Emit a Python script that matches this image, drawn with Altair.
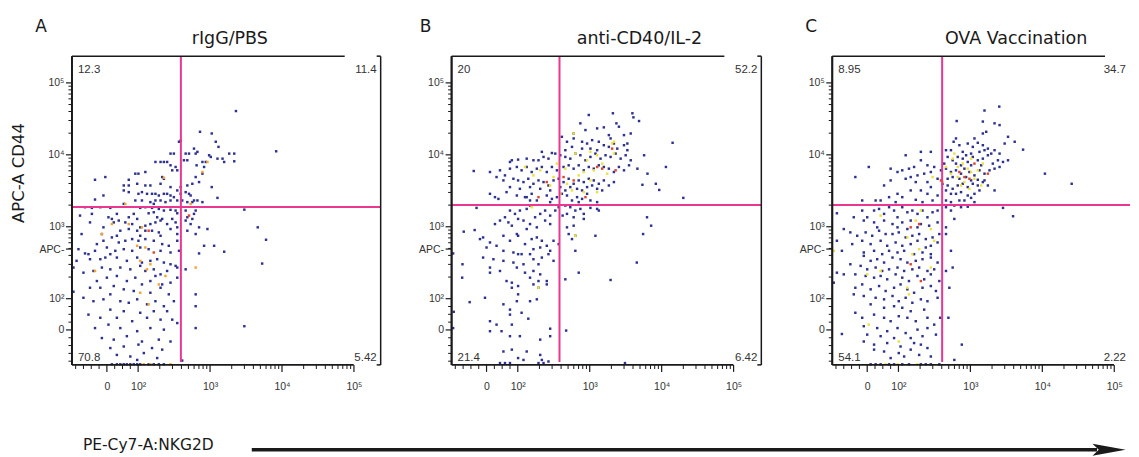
import math
import pandas as pd
import altair as alt

# ---------------- data: event intensities (x = PE-Cy7 NKG2D, y = APC CD44) ----------------
A_LO = [
    (2290, 40600), (725, 20900), (1055, 19800), (1200, 15200), (1310, 12900), (370, 15200), (390, 15700), (8300, 11200),
    (282, 10400), (314, 10400), (458, 10400), (510, 10400), (598, 12200), (631, 10400), (667, 11000), (970, 9860), (1023, 9350),
    (1268, 8850), (1845, 10400), (2168, 10400), (2168, 8130), (1490, 8850), (1571, 7960), (783, 7960), (872, 7960), (433, 8400),
    (483, 8400), (174, 7960), (205, 7960), (228, 7960), (253, 7960), (282, 7150), (332, 6780), (350, 6090), (298, 6090), (126, 5770),
    (91, 5470), (101, 5470), (228, 4650), (216, 4910), (-5, 4910), (-38, 4500), (70, 4500), (54, 3750), (70, 3750), (97, 3960),
    (126, 3750), (148, 3750), (205, 3960), (282, 3560), (390, 3560), (483, 3750), (567, 3960), (703, 4180), (783, 5470), (826, 6780),
    (631, 4910), (650, 7150), (1055, 3560), (1268, 2520), (54, 3200), (70, 3030), (101, 2870), (113, 3030), (133, 2870), (156, 2870),
    (174, 2870), (194, 2720), (228, 2870), (253, 2870), (282, 2720), (314, 2580), (350, 3200), (390, 2870), (458, 3030), (510, 2870),
    (537, 2720), (598, 2320), (667, 2320), (783, 2200), (-38, 2390), (-11, 2720), (91, 2320), (113, 2320), (148, 2200), (174, 2320),
    (205, 2320), (240, 2200), (282, 2320), (350, 2320), (410, 2320), (483, 2200), (567, 2200), (54, 2080), (165, 2080),
    (-70, 1870), (-48, 1830), (-21, 1870), (11, 1830), (107, 1830), (126, 1870), (156, 1830), (194, 1770), (228, 1680), (282, 1720),
    (332, 1680), (350, 1540), (165, 1590), (140, 1540), (86, 1510), (32, 1510), (5, 1355), (-48, 1510), (-86, 1430), (70, 1355),
    (184, 1355), (97, 1285), (216, 1285), (298, 1285), (16, 1285), (38, 1220), (-11, 982), (22, 1150), (59, 1150), (81, 1090),
    (107, 982), (126, 1035), (148, 1090), (174, 1150), (205, 1220), (253, 1090), (332, 1150), (350, 982), (-54, 1150), (-16, 792),
    (43, 881), (70, 930), (97, 881), (126, 881), (156, 881), (194, 835), (282, 930), (-81, 792), (107, 750), (205, 750), (350, 792),
    (32, 750), (-91, 488), (-70, 426), (-59, 416), (-32, 574), (-11, 639), (16, 711), (38, 605), (59, 639), (81, 674), (101, 639),
    (126, 674), (165, 639), (216, 574), (267, 544), (350, 639), (-38, 463), (0, 515), (27, 463), (54, 488), (81, 463), (107, 515),
    (140, 488), (205, 463), (282, 439), (370, 463), (11, 416), (-97, 336), (-54, 354), (-21, 354), (-5, 373), (32, 373), (64, 336),
    (97, 373), (113, 318), (148, 336), (184, 354), (228, 318), (282, 301), (332, 286), (-43, 243), (-16, 271), (11, 256), (43, 271),
    (75, 256), (107, 286), (126, 243), (165, 256), (205, 218), (253, 243), (350, 271), (-75, 230), (-107, 271), (-32, 176), (0, 196),
    (32, 207), (64, 176), (91, 196), (113, 158), (148, 176), (174, 207), (216, 158), (282, 167), (350, 196), (-54, 142), (-21, 142),
    (22, 150), (54, 135), (86, 128), (148, 121), (205, 142), (267, 115), (-75, 103), (-107, 125), (11, 115), (-43, 92), (-11, 98),
    (43, 92), (70, 87), (97, 98), (133, 82), (174, 92), (228, 76), (314, 92), (11, 65), (54, 60), (107, 55), (165, 60), (253, 60),
    (-59, 49), (-21, 39), (32, 39), (81, 28), (133, 39), (205, 33), (298, 33), (350, 22), (-38, 6), (5, 17), (43, 6), (97, -4), (148, 6),
    (228, 1), (-16, -26), (22, -31), (64, -20), (113, -37), (194, -31), (282, -37), (11, -58), (54, -53), (101, -47), (156, -58),
    (216, -63), (32, -80), (75, -85), (120, -74), (184, -90), (97, -96),
    (16, -110), (32, -110), (43, -110), (54, -110), (64, -110), (75, -110), (86, -110), (97, -110), (107, -110), (140, -110),
    (165, -110), (194, -110), (228, -110),
    (458, 1680), (631, 1680), (598, 1510), (458, 1220), (537, 1090), (483, 881), (631, 792), (919, 930), (703, 982), (826, 544),
    (1139, 544), (703, 426), (1571, 450), (2995, 1730), (4600, 982), (6000, 660), (5300, 308), (458, 256), (631, 115), (631, 76),
    (631, 6), (2995, 12), (410, -98), (483, 1355), (567, 1285),
]
A_MID = [
    (59, 2080), (537, 2080), (228, 4800), (919, 7960), (783, 5770), (-16, 792), (16, 1090), (70, 1090), (113, 982), (97, 544),
    (126, 515), (107, 336), (240, 207), (194, 158), (107, 121), (140, 82), (148, 301), (133, 256), (631, 271), (-38, 243),
    (120, -110), (148, -110), (282, -110),
]
A_HI = [(510, 1430), (165, 439), (140, 881)]

B_LO = [
    (970, 35800), (2100, 37800), (3920, 37800), (4050, 33200), (4850, 29500), (2350, 27400), (2545, 24600), (741, 27400),
    (1268, 23300), (1571, 24100), (872, 22100), (598, 19800), (1845, 18800), (1950, 16900), (3715, 19800), (2995, 18800),
    (3335, 14350), (14190, 14700), (5700, 9860), (11460, 6780), (6350, 5470), (8300, 3960), (9250, 3250), (20000, 2520),
    (5400, 3830), (4600, 6420),
    (410, 17800), (483, 15200), (598, 16900), (783, 15200), (919, 14350), (1080, 16000), (1338, 15200), (1571, 13600),
    (1845, 12900), (2168, 14350), (2415, 12200), (2995, 13600), (3335, 11600), (783, 12200), (1023, 12200), (1268, 11600),
    (458, 11600), (567, 12900), (216, 11000), (298, 10600),
    (133, 8850), (165, 8400), (194, 8400), (228, 9350), (267, 8850), (332, 10400), (390, 9860), (458, 9350), (537, 8850),
    (631, 10400), (741, 9860), (872, 8400), (1023, 9350), (1200, 10400), (1413, 8850), (1660, 9860), (1950, 9350), (2290, 10400),
    (2690, 8850), (3160, 9860), (3715, 8400), (81, 8400), (101, 8580), (75, 7960),
    (11, 5770), (43, 6090), (59, 5180), (75, 6420), (97, 6780), (113, 6090), (133, 6780), (156, 5770), (184, 6420), (216, 6780),
    (253, 5770), (298, 6780), (350, 6090), (433, 6780), (510, 7150), (598, 6420), (703, 7150), (826, 6090), (970, 6780),
    (1139, 6420), (1338, 7150), (1571, 6780), (1845, 6420), (2168, 5770), (2545, 6780), (2995, 6090), (3520, 7150), (-41, 5960),
    (32, 4910), (54, 4410),
    (86, 4650), (101, 4410), (120, 4180), (140, 4650), (165, 3960), (194, 4410), (228, 4180), (267, 3750), (314, 4410), (370, 4650),
    (433, 4180), (510, 4650), (598, 3960), (703, 4410), (826, 4180), (970, 4650), (1139, 4410), (1338, 3960), (1571, 4410),
    (1845, 3750), (2168, 4180), (75, 3560), (107, 3370), (148, 3560), (205, 3370), (282, 3200), (390, 3560), (458, 3200),
    (537, 3560), (667, 3370), (783, 3200), (919, 3560), (1080, 3750), (1268, 3370), (1490, 3200), (11, 2870), (27, 2580), (38, 2440),
    (64, 3030), (97, 2720), (126, 2580), (156, 2870), (184, 2320), (253, 2720), (298, 2440), (350, 2580), (410, 2870), (483, 2720),
    (567, 2320), (667, 2580), (783, 2440), (919, 2870), (1023, 2320), (1268, 2200), (703, 2200), (282, 2200), (148, 2320), (133, 2580),
    (458, 1970), (537, 1870), (631, 1680), (741, 1770), (826, 1510), (1023, 1830), (1268, 1770), (1338, 1680), (483, 1510),
    (598, 1355), (420, 1430), (826, 1285), (483, 982), (598, 1035), (510, 792), (631, 750), (567, 674), (631, 463), (458, 186),
    (703, 230), (1200, 750), (1950, 182), (4510, 318), (5520, 792), (6260, 1355), (7140, 1035), (3090, -106), (470, -2),
    (148, 1970), (133, 1770), (107, 1680), (91, 1510), (75, 1680), (59, 1355), (70, 1150), (81, 1035), (101, 1285), (120, 1220),
    (148, 1090), (174, 1355), (205, 1510), (240, 1680), (282, 1430), (332, 1680), (370, 1870), (184, 982), (240, 1220), (282, 1090),
    (-32, 1830), (43, 1220), (27, 1090), (-38, 900), (-73, 855), (133, 930), (97, 792), (-11, 711), (-21, 674), (11, 605), (54, 750),
    (75, 639), (101, 750), (126, 574), (156, 674), (184, 711), (216, 639), (253, 544), (314, 639), (370, 574), (32, 544), (0, 515),
    (54, 463), (86, 439), (113, 416), (165, 488), (205, 515), (282, 463), (148, 416), (-11, 373), (-107, 426), (22, 354), (54, 336),
    (86, 318), (101, 416), (120, 301), (165, 354), (194, 301), (216, 373), (267, 416), (314, 336), (11, 271), (43, 243), (97, 271),
    (126, 230), (165, 243), (205, 218), (253, 176), (-77, 301), (11, 230), (64, 176), (81, 167), (101, 150), (148, 196), (194, 176),
    (-78, 196), (81, 142), (101, 115), (194, 142), (253, 158), (165, 158), (-54, 89), (-5, 103), (54, 82), (75, 65), (97, 92), (113, 55),
    (148, 92), (184, 98), (75, 49), (140, 36), (-105, 58), (11, 28), (11, -4), (48, -4), (81, 17), (32, 17), (107, -20), (75, -20),
    (205, -31), (282, 4), (282, -20), (54, -69), (81, -63), (133, -69), (205, -80), (120, -96), (101, -90), (43, -106), (59, -106),
    (75, -106), (194, -106), (228, -106), (267, -101), (216, -96), (-107, 6),
]
B_MID = [
    (598, 19800), (631, 10400), (1023, 11000), (919, 8400), (1268, 9860), (1490, 7550), (2050, 14350), (350, 7550), (458, 6420),
    (483, 3960), (567, 3200), (390, 2870), (282, 3750), (205, 6090), (165, 5180), (126, 6780), (1023, 4410), (1268, 3030),
    (1750, 5470), (2168, 10400), (826, 5770), (314, 4910), (703, 5180), (1139, 6090), (826, 3030), (631, 750), (194, 142),
    (2168, 15200), (156, 1870),
]
B_HI = [(598, 4410), (1268, 6780), (2290, 6090), (253, 4180), (194, 2580), (433, 4910), (1490, 6420), (872, 2580), (2050, 12200)]

C_LO = [
    (2520, 46800), (1571, 41300), (645, 29500), (1490, 29000), (2168, 27400), (2545, 25900), (1660, 20900), (1490, 19800),
    (1139, 16900), (3335, 17800), (4130, 15200), (2995, 14350), (5400, 11800), (10870, 5470), (25600, 3960), (2840, 1830),
    (3920, 1400), (631, 16900), (585, 15200),
    (703, 13600), (919, 14350), (1080, 12900), (1268, 14700), (1490, 13600), (1750, 12200), (2168, 11600), (2545, 10400),
    (537, 11600), (458, 11600), (205, 11000), (282, 11000), (126, 9860), (783, 11000), (1023, 10400), (1338, 11000), (1571, 11600),
    (1950, 10400),
    (483, 9350), (567, 8400), (667, 9350), (783, 8850), (919, 7960), (1080, 9350), (1268, 8400), (1490, 8850), (1750, 9860),
    (2050, 7550), (2415, 8400), (2840, 7960), (3335, 8400), (433, 7550), (631, 7550), (741, 7150), (872, 9860), (205, 8400),
    (253, 7150), (314, 6780), (165, 6780), (140, 6420), (113, 6090), (97, 5770), (5, 6780), (75, 6420), (1023, 7150), (1413, 7150),
    (390, 6090), (458, 6420), (537, 5770), (631, 6090), (741, 5470), (826, 6420), (970, 5770), (1139, 5180), (1338, 6090),
    (1571, 5470), (1845, 6090), (2168, 6420), (2545, 6780), (228, 5470), (282, 5770), (184, 5180), (148, 4910), (126, 4650),
    (75, 4410), (54, 3750), (483, 4650), (567, 4910), (703, 4650), (872, 4910), (1023, 4410), (1268, 4500), (-38, 4910), (350, 4650),
    (174, 4180), (253, 4180), (1571, 4410),
    (410, 3960), (483, 3750), (567, 3370), (667, 3750), (783, 3960), (919, 3560), (1080, 3960), (1268, 3750), (1490, 4180),
    (1750, 3750), (458, 3200), (537, 2870), (631, 2870), (741, 3030), (919, 2720), (1139, 2870), (1338, 3200), (2168, 3200),
    (282, 3560), (205, 3200), (148, 3200), (97, 2870), (113, 2580), (253, 2870), (350, 2720), (298, 2320), (216, 2200), (70, 2580),
    (43, 2320), (27, 2320), (-16, 2320), (458, 2320), (537, 2200), (703, 2320), (826, 2320), (1139, 2200), (1023, 2520), (91, 2200),
    (174, 2370),
    (458, 1870), (598, 1970), (741, 1870), (919, 1900), (537, 1680), (598, 1285), (458, 982), (458, 792), (537, 463), (567, 271),
    (495, 39), (760, -47), (598, -96), (458, 243), (510, 142),
    (-97, 1540), (-43, 1355), (-16, 1680), (0, 1355), (22, 1680), (38, 1770), (54, 1510), (70, 1870), (86, 1680), (97, 1355),
    (113, 1870), (133, 1590), (156, 1680), (184, 1510), (216, 1680), (253, 1355), (298, 1590), (350, 1680), (-11, 1220), (22, 1150),
    (54, 1220), (81, 1090), (113, 1150), (148, 1220), (205, 1090), (267, 1035), (350, 1150), (32, 982), (97, 982), (133, 930), (184, 982),
    (-75, 930), (-54, 835), (-32, 750), (-5, 835), (16, 750), (38, 881), (59, 792), (81, 792), (101, 835), (126, 711), (156, 750),
    (194, 792), (240, 674), (298, 711), (370, 792), (-97, 639), (-48, 574), (-16, 639), (11, 574), (43, 639), (64, 544), (91, 605),
    (113, 544), (148, 574), (184, 639), (240, 515), (282, 544), (350, 605), (-81, 463), (-11, 439), (22, 463), (48, 416), (70, 463),
    (97, 439), (120, 463), (165, 416), (216, 439), (282, 416),
    (-11, 394), (11, 336), (32, 354), (54, 318), (81, 373), (107, 354), (133, 318), (174, 336), (216, 354), (282, 373), (350, 318),
    (-54, 301), (-21, 286), (0, 256), (27, 271), (48, 243), (70, 256), (97, 271), (120, 243), (156, 256), (194, 271), (253, 243),
    (314, 256), (-97, 230), (-75, 218), (-38, 218), (-5, 207), (22, 196), (43, 207), (64, 186), (91, 218), (113, 196), (140, 176),
    (184, 207), (228, 186), (282, 218), (370, 176), (-107, 167),
    (-38, 142), (-16, 158), (11, 135), (38, 150), (59, 128), (86, 142), (107, 158), (133, 135), (165, 121), (216, 142), (282, 150),
    (332, 128), (-43, 115), (-11, 109), (27, 103), (54, 98), (81, 109), (101, 92), (126, 103), (156, 87), (205, 98), (253, 92), (350, 103),
    (11, 82), (54, 71), (86, 76), (113, 71), (148, 60), (228, 65),
    (-38, 55), (-16, 39), (22, 49), (54, 39), (75, 28), (101, 44), (133, 39), (174, 28), (253, 39), (314, 17), (-11, 12), (32, 6), (64, -4),
    (97, 6), (126, -10), (184, 1), (253, 6), (-81, -13), (0, -15), (43, -20), (86, -26), (148, -26), (216, -20), (332, -15),
    (-11, -37), (22, -47), (64, -42), (107, -53), (165, -42), (205, -47), (253, -58), (54, -69), (101, -74), (148, -63), (194, -80),
    (75, -90), (120, -85), (282, -85), (22, -63), (380, 39),
    (11, -110), (27, -110), (43, -110), (70, -110), (86, -110), (113, -110), (140, -110), (205, -110), (240, -110), (282, -110), (370, -110),
]
C_MID = [
    (598, 10400), (667, 6780), (783, 7550), (919, 6420), (1023, 8850), (1268, 6090), (667, 4910), (537, 5470), (826, 4180),
    (1490, 7550), (1139, 4650), (410, 4180), (298, 4910), (741, 3750), (970, 3370), (458, 6780), (567, 8850), (1413, 3750),
    (1023, 5770), (43, 1430), (205, 1680), (174, 1220), (282, 930), (133, 711), (194, 488), (314, 639), (43, 243), (156, 416),
    (133, 142), (140, 115), (282, 271), (0, 218), (101, -37), (5, 17), (59, -110), (97, -110), (184, -110), (-107, 463),
]
C_HI = [(703, 5770), (826, 4910), (1139, 7550), (970, 4650), (390, 4410), (148, 982), (194, 1090), (148, 301), (205, 176), (1750, 5470)]

GATE_X = [393, 380, 405]
GATE_Y = [1880, 2005, 2005]
LETTERS = ["A", "B", "C"]
TITLES = ["rIgG/PBS", "anti-CD40/IL-2", "OVA Vaccination"]
Q_TL = ["12.3", "20", "8.95"]
Q_TR = ["11.4", "52.2", "34.7"]
Q_BL = ["70.8", "21.4", "54.1"]
Q_BR = ["5.42", "6.42", "2.22"]
Y_TITLE = "APC-A CD44"
X_TITLE = "PE-Cy7-A:NKG2D"
TICK_MAJOR = {0: "0", 100: "10²", 1000: "10³", 10000: "10⁴", 100000: "10⁵"}
TICK_MAJOR_Y = {**TICK_MAJOR, 490: "APC-"}
TICK_MINOR = [-100, -75, -50, -25, 25, 50, 75] + [m * 10 ** e for e in (2, 3, 4) for m in range(2, 10)]

# ---------------- style ----------------
NAVY = "#2d3190"
ORANGE = "#f3a52a"
YELLOW = "#eee23a"
RED = "#e2452b"
MAGENTA = "#ea3790"
INK = "#1a1a1a"
LABEL = "#333333"
SANS = "Liberation Sans"
TITLE_FONT = "DejaVu Sans"

PXD = 72.0          # pixels per decade
D_MIN = 1.08        # display value at the gated plot's lower / left edge
H = 309
OX, OY = 7, 8       # room kept inside each view for the axis lines and ticks
WIDTHS = [309, 310, 298]
SPACING = 64
LETTER_X = [-31, -26, -21]
TITLE_X = [158, 188, 184]
MID_COLORS = [ORANGE, YELLOW, YELLOW]

EXPR = "datum.{f} >= 100 ? log(datum.{f}) / LN10 : 2 + (datum.{f} - 100) / (100 * LN10)"


def to_disp(v):
    return math.log10(v) if v >= 100 else 2 + (v - 100) / (100 * math.log(10))


def make_axis(orient, majors, pad):
    maj = {round(to_disp(v), 4): lab for v, lab in majors.items()}
    expr = " : ".join(f"datum.value == {k} ? '{lab}'" for k, lab in maj.items()) + " : ''"
    return alt.Axis(
        orient=orient, values=sorted(maj), labelExpr=expr, title=None, grid=False,
        ticks=False, domain=False, labelOverlap=False, labelFlush=False,
        labelFont=SANS, labelFontSize=10.5, labelColor=LABEL, labelPadding=pad,
    )


ONE = pd.DataFrame({"k": [0]})


def deco():
    return alt.Chart(ONE)


def panel(i, lo, mid, hi, extras):
    w = WIDTHS[i]
    W2, H2 = w + OX, H + OY
    xs = alt.Scale(domain=[D_MIN - OX / PXD, D_MIN + w / PXD], nice=False, zero=False)
    ys = alt.Scale(domain=[D_MIN - OY / PXD, D_MIN + H / PXD], nice=False, zero=False)
    xaxis = make_axis("bottom", TICK_MAJOR, 9)
    yaxis = make_axis("left", TICK_MAJOR_Y, 1)

    rows = ([{"ix": x, "iy": y, "dens": "lo"} for x, y in lo]
            + [{"ix": x, "iy": y, "dens": "mid"} for x, y in mid]
            + [{"ix": x, "iy": y, "dens": "hi"} for x, y in hi])
    base = alt.Chart(pd.DataFrame(rows)).transform_calculate(
        dx=EXPR.format(f="ix"), dy=EXPR.format(f="iy"))

    def pts(cls, color):
        return base.transform_filter(f"datum.dens == '{cls}'").mark_square(
            size=6, color=color, opacity=1
        ).encode(x=alt.X("dx:Q", scale=xs, axis=xaxis), y=alt.Y("dy:Q", scale=ys, axis=yaxis))

    gate = alt.Chart(pd.DataFrame({"gx": [GATE_X[i]], "gy": [GATE_Y[i]]})).transform_calculate(
        dx=EXPR.format(f="gx"), dy=EXPR.format(f="gy"))
    vline = gate.mark_rule(color=MAGENTA, strokeWidth=2).encode(
        x=alt.X("dx:Q", scale=xs, axis=xaxis), y=alt.value(0), y2=alt.value(H - 3))
    hline = gate.mark_rule(color=MAGENTA, strokeWidth=2).encode(
        y=alt.Y("dy:Q", scale=ys, axis=yaxis), x=alt.value(OX), x2=alt.value(W2))

    # tick marks, placed through the same scales
    ticks_df = pd.DataFrame(
        [{"tv": v, "maj": 1} for v in TICK_MAJOR_Y] + [{"tv": v, "maj": 0} for v in TICK_MINOR])
    tk = alt.Chart(ticks_df).transform_calculate(
        dx=EXPR.format(f="tv"), dy=EXPR.format(f="tv"))
    y_major = tk.transform_filter("datum.maj == 1").mark_tick(
        color=INK, orient="horizontal", size=6, thickness=1.2, opacity=1).encode(
        y=alt.Y("dy:Q", scale=ys, axis=yaxis), x=alt.value(OX - 3))
    y_minor = tk.transform_filter("datum.maj == 0").mark_tick(
        color=INK, orient="horizontal", size=3.5, thickness=1, opacity=1).encode(
        y=alt.Y("dy:Q", scale=ys, axis=yaxis), x=alt.value(OX - 1.75))
    x_major = tk.transform_filter("datum.maj == 1 && datum.tv != 490").mark_tick(
        color=INK, orient="vertical", size=7, thickness=1.2, opacity=1).encode(
        x=alt.X("dx:Q", scale=xs, axis=xaxis), y=alt.value(H + 3.5))
    x_minor = tk.transform_filter("datum.maj == 0").mark_tick(
        color=INK, orient="vertical", size=4, thickness=1, opacity=1).encode(
        x=alt.X("dx:Q", scale=xs, axis=xaxis), y=alt.value(H + 2))

    left_rect = deco().mark_rect(color=INK, opacity=1).encode(
        x=alt.value(OX - 0.9), x2=alt.value(OX + 0.9), y=alt.value(0), y2=alt.value(H))
    left_rule = deco().mark_rule(color=INK, strokeWidth=1.8).encode(
        x=alt.value(OX), y=alt.value(0), y2=alt.value(H))
    top = deco().mark_rule(color=INK, strokeWidth=1.5).encode(
        x=alt.value(OX), x2=alt.value(OX + 273), y=alt.value(0))
    bottom = deco().mark_rule(color=INK, strokeWidth=1.8).encode(
        x=alt.value(OX), x2=alt.value(OX + 282), y=alt.value(H))

    def qtext(txt, x, y, align):
        return deco().mark_text(align=align, baseline="alphabetic", font=SANS, fontSize=11.5,
                                color=LABEL).encode(x=alt.value(x), y=alt.value(y), text=alt.value(txt))

    layers = [
        pts("lo", NAVY), pts("mid", MID_COLORS[i]), pts("hi", RED),
        hline, vline, top, bottom,
        qtext(Q_TL[i], OX + 6, 17, "left"), qtext(Q_TR[i], W2 - 4, 17, "right"),
        qtext(Q_BL[i], OX + 6, H - 4, "left"), qtext(Q_BR[i], W2 - 4, H - 4, "right"),
        deco().mark_text(font=TITLE_FONT, fontSize=17, align="center", baseline="alphabetic",
                         color=INK).encode(x=alt.value(OX + LETTER_X[i]), y=alt.value(-24),
                                           text=alt.value(LETTERS[i])),
        deco().mark_text(font=TITLE_FONT, fontSize=17.5, align="center", baseline="alphabetic",
                         color=INK).encode(x=alt.value(OX + TITLE_X[i]), y=alt.value(-12),
                                           text=alt.value(TITLES[i])),
    ]
    if i < 2:
        layers += [
            deco().mark_rule(color=INK, strokeWidth=1.5).encode(x=alt.value(W2), y=alt.value(0), y2=alt.value(H)),
            deco().mark_rule(color=INK, strokeWidth=1.5).encode(x=alt.value(W2 - 4), x2=alt.value(W2), y=alt.value(0)),
            deco().mark_rule(color=INK, strokeWidth=1.5).encode(x=alt.value(W2 - 4), x2=alt.value(W2), y=alt.value(H)),
        ]
    layers += [left_rule, left_rect, y_major, y_minor, x_major, x_minor]
    layers += extras
    return alt.layer(*layers).properties(width=W2, height=H2)


ARROW = "M -1 -0.36 L 1 0 L -1 0.36 L -0.62 0 Z"
extras_a = [
    deco().mark_rule(opacity=0).encode(x=alt.value(OX - 64), x2=alt.value(OX - 63), y=alt.value(-48), y2=alt.value(-47)),
    deco().mark_text(font=TITLE_FONT, fontSize=16.5, angle=270, align="center", baseline="middle",
                     color=INK).encode(x=alt.value(OX - 53), y=alt.value(117), text=alt.value(Y_TITLE)),
    deco().mark_text(font=TITLE_FONT, fontSize=15.5, align="left", baseline="alphabetic",
                     color=INK).encode(x=alt.value(OX + 11), y=alt.value(394), text=alt.value(X_TITLE)),
    deco().mark_rule(color=INK, strokeWidth=3.5).encode(x=alt.value(OX + 180), x2=alt.value(OX + 1026), y=alt.value(394)),
    deco().mark_point(shape=ARROW, size=1100, filled=True, color=INK, opacity=1, strokeWidth=0).encode(
        x=alt.value(OX + 1038), y=alt.value(394)),
]

pa = panel(0, A_LO, A_MID, A_HI, extras_a)
pb = panel(1, B_LO, B_MID, B_HI, [])
pc = panel(2, C_LO, C_MID, C_HI, [])

chart = alt.hconcat(pa, pb, pc, spacing=SPACING, bounds="flush").properties(
    padding=0, background="white"
).configure_view(stroke=None)

chart.save("out.html", embed_options={"renderer": "svg", "actions": False})
